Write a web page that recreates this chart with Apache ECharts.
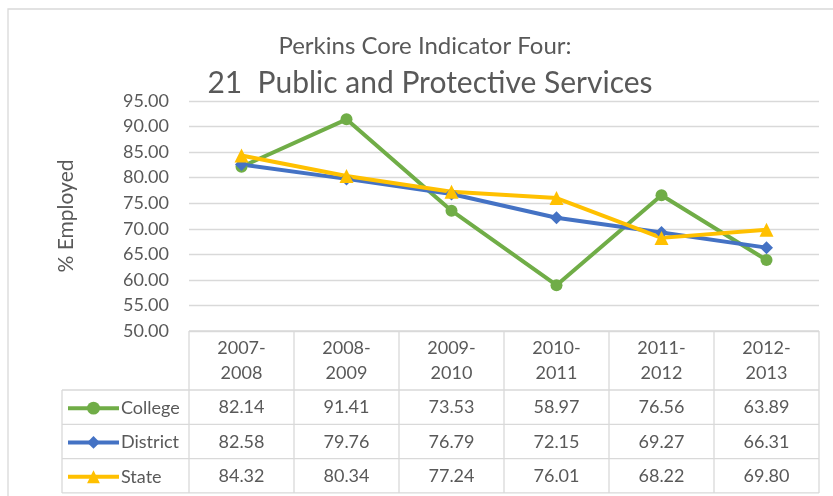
<!DOCTYPE html>
<html>
<head>
<meta charset="utf-8">
<style>
html, body { margin: 0; padding: 0; background: #fff; }
#main { width: 833px; height: 496px; }
</style>
<script src="https://cdn.jsdelivr.net/npm/echarts@6/dist/echarts.min.js"></script>
</head>
<body>
<div id="main"></div>
<script type="text/javascript">
	var years = [ '2007-\n2008', '2008-\n2009', '2009-\n2010', '2010-\n2011', '2011-\n2012', '2012-\n2013' ];
	var college = [ 82.14, 91.41, 73.53, 58.97, 76.56, 63.89 ];
	var district = [ 82.58, 79.76, 76.79, 72.15, 69.27, 66.31 ];
	var state = [ 84.32, 80.34, 77.24, 76.01, 68.22, 69.80 ];
	var yTicks = [ 50, 55, 60, 65, 70, 75, 80, 85, 90, 95 ];

	var font = 'Lato, "Noto Sans", sans-serif';
	var txt = '#595959';
	var border = '#d9d9d9';

	// plot area (px)
	var gLeft = 189, gRight = 819, gTop = 101, gBottom = 331;
	var headBottom = 390, rowH = 34.3, legLeft = 62;
	var colW = (gRight - gLeft) / years.length;

	function fmt(v) {
		return v.toFixed(2);
	}

	// one x axis per table row, its labels hold the numbers
	function rowAxis(values, margin) {
		return {
			type : 'category',
			gridIndex : 0,
			position : 'bottom',
			data : values.map(fmt),
			axisLine : { show : false },
			axisTick : { show : false },
			splitLine : { show : false },
			axisLabel : {
				interval : 0,
				margin : margin,
				verticalAlign : 'middle',
				color : txt,
				fontSize : 18,
				fontFamily : font
			}
		};
	}

	// one legend per table row
	function rowLegend(name, i) {
		return {
			orient : 'vertical',
			left : 66,
			top : headBottom + rowH * i + (rowH - 16) / 2,
			padding : 0,
			itemWidth : 51,
			itemHeight : 16,
			lineStyle : { width : 4 },
			textStyle : { fontSize : 18, color : txt, fontFamily : font, padding : [ 0, 0, 0, -3 ] },
			data : [ name ]
		};
	}

	// table lines
	var lines = [];
	function hline(x1, x2, y) {
		lines.push({ type : 'line', shape : { x1 : x1, y1 : y, x2 : x2, y2 : y },
			style : { stroke : border, lineWidth : 1.3 }, silent : true });
	}
	function vline(x, y1, y2) {
		lines.push({ type : 'line', shape : { x1 : x, y1 : y1, x2 : x, y2 : y2 },
			style : { stroke : border, lineWidth : 1.3 }, silent : true });
	}
	var tableBottom = headBottom + rowH * 3;
	hline(gLeft, gRight, gBottom);
	for (var r = 0; r <= 3; r++) {
		hline(legLeft, gRight, headBottom + rowH * r);
	}
	vline(legLeft, headBottom, tableBottom);
	for (var c = 0; c <= years.length; c++) {
		vline(gLeft + colW * c, gBottom, tableBottom);
	}
	// chart outer border
	lines.push({ type : 'rect', shape : { x : 8, y : 9, width : 840, height : 500 },
		style : { fill : 'none', stroke : border, lineWidth : 1.3 }, silent : true });

	var myChart = echarts.init(document.getElementById('main'));
	var option = {
		animation : false,
		backgroundColor : '#fff',
		title : [ {
			text : 'Perkins Core Indicator Four:',
			left : 420,
			top : 29,
			textAlign : 'center',
			textStyle : { fontSize : 24, fontWeight : 'normal', color : txt, fontFamily : font }
		}, {
			text : '21  Public and Protective Services',
			left : 425,
			top : 63,
			textAlign : 'center',
			textStyle : { fontSize : 30, fontWeight : 'normal', color : txt, fontFamily : font }
		} ],
		color : [ '#70AD47', '#4472C4', '#FFC000' ],
		legend : [ rowLegend('College', 0), rowLegend('District', 1), rowLegend('State', 2) ],
		grid : {
			left : gLeft,
			right : 833 - gRight,
			top : gTop,
			bottom : 496 - gBottom,
			containLabel : false
		},
		xAxis : [ {
			type : 'category',
			boundaryGap : true,
			data : years,
			axisLine : { show : false },
			axisTick : { show : false },
			axisLabel : {
				interval : 0,
				margin : 30,
				verticalAlign : 'middle',
				lineHeight : 25,
				color : txt,
				fontSize : 18,
				fontFamily : font
			}
		}, rowAxis(college, 76.5), rowAxis(district, 111), rowAxis(state, 145) ],
		yAxis : [ {
			type : 'value',
			min : yTicks[0],
			max : yTicks[yTicks.length - 1],
			interval : 5,
			name : '% Employed',
			nameLocation : 'middle',
			nameGap : 112,
			nameTextStyle : { fontSize : 21, color : txt, fontFamily : font },
			axisLine : { show : false },
			axisTick : { show : false },
			axisLabel : {
				margin : 20,
				color : txt,
				fontSize : 18,
				fontFamily : font,
				formatter : function(v) { return v.toFixed(2); }
			},
			splitLine : { lineStyle : { color : border, width : 1.3 } }
		} ],
		series : [ {
			name : 'College',
			type : 'line',
			data : college,
			symbol : 'circle',
			symbolSize : 12,
			lineStyle : { width : 4 }
		}, {
			name : 'District',
			type : 'line',
			data : district,
			symbol : 'diamond',
			symbolSize : 13,
			lineStyle : { width : 4 }
		}, {
			name : 'State',
			type : 'line',
			data : state,
			symbol : 'triangle',
			symbolSize : 14,
			lineStyle : { width : 4 }
		} ],
		graphic : lines
	};
	myChart.setOption(option);
</script>
</body>
</html>
